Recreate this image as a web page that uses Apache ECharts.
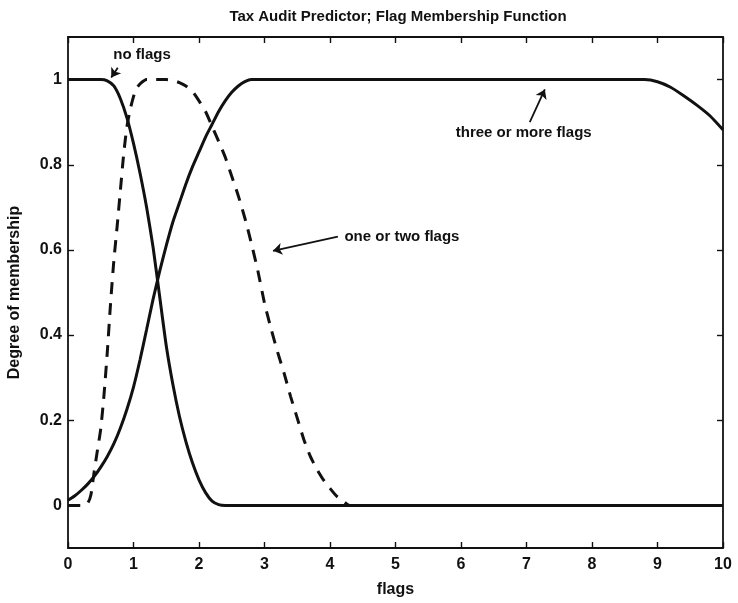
<!DOCTYPE html>
<html>
<head>
<meta charset="utf-8">
<script src="https://cdn.jsdelivr.net/npm/echarts@6/dist/echarts.min.js"></script>
<style>
  html, body { margin: 0; padding: 0; background: #fff; }
  #chart { width: 738px; height: 603px; }
</style>
</head>
<body>
<div id="chart"></div>
<script>
// Membership curves, sampled along the "flags" axis
const noFlagsX = [0, 0.1, 0.2, 0.3, 0.4, 0.5, 0.6, 0.7, 0.8, 0.9, 1.0, 1.1, 1.2, 1.3, 1.4, 1.5, 1.6, 1.7, 1.8, 1.9, 2.0, 2.1, 2.2, 2.3, 2.4, 10];
const noFlagsY = [1, 1, 1, 1, 1, 1, 0.997, 0.985, 0.955, 0.91, 0.85, 0.78, 0.70, 0.605, 0.49, 0.375, 0.285, 0.21, 0.15, 0.10, 0.06, 0.03, 0.01, 0.002, 0, 0];

const oneTwoX = [0, 0.2, 0.3, 0.35, 0.4, 0.45, 0.5, 0.55, 0.6, 0.65, 0.7, 0.75, 0.8, 0.85, 0.9, 0.95, 1.0, 1.05, 1.1, 1.2, 1.3, 1.4, 1.5, 1.6, 1.7, 1.8, 1.9, 2.0, 2.1, 2.2, 2.3, 2.4, 2.5, 2.6, 2.7, 2.8, 2.9, 3.0, 3.1, 3.2, 3.3, 3.4, 3.5, 3.6, 3.7, 3.8, 3.9, 4.0, 4.1, 4.2, 4.3, 10];
const oneTwoY = [0, 0, 0.005, 0.025, 0.08, 0.13, 0.18, 0.26, 0.36, 0.475, 0.575, 0.655, 0.74, 0.825, 0.89, 0.93, 0.96, 0.98, 0.99, 1, 1, 1, 1, 0.998, 0.993, 0.985, 0.972, 0.95, 0.925, 0.89, 0.855, 0.818, 0.773, 0.727, 0.675, 0.615, 0.55, 0.475, 0.415, 0.36, 0.31, 0.255, 0.205, 0.155, 0.115, 0.085, 0.06, 0.04, 0.022, 0.01, 0, 0];

const threePlusX = [0, 0.1, 0.2, 0.3, 0.4, 0.5, 0.6, 0.7, 0.8, 0.9, 1.0, 1.1, 1.2, 1.3, 1.4, 1.5, 1.6, 1.7, 1.8, 1.9, 2.0, 2.1, 2.2, 2.3, 2.4, 2.5, 2.6, 2.7, 2.8, 8.8, 9.0, 9.2, 9.4, 9.6, 9.8, 10];
const threePlusY = [0.012, 0.022, 0.035, 0.05, 0.068, 0.09, 0.115, 0.145, 0.182, 0.226, 0.278, 0.342, 0.413, 0.485, 0.55, 0.61, 0.665, 0.71, 0.755, 0.795, 0.83, 0.865, 0.895, 0.925, 0.95, 0.97, 0.985, 0.995, 1, 1, 0.995, 0.982, 0.962, 0.94, 0.915, 0.882];

// Axis ticks
const yTicks = [0, 0.2, 0.4, 0.6, 0.8, 1];

// Callout labels and their arrows (tail -> head), in data units
const calloutText = ['no flags', 'one or two flags', 'three or more flags'];
const calloutAt = [[1.13, 1.058], [4.22, 0.631], [5.92, 0.874]];
const calloutAlign = ['center', 'left', 'left'];
const arrowTail = [[0.76, 1.028], [4.12, 0.631], [7.05, 0.90]];
const arrowHead = [[0.66, 1.005], [3.13, 0.598], [7.28, 0.977]];

const pairs = (xs, ys) => xs.map((x, i) => [x, ys[i]]);

const FONT = '"Liberation Sans", Arial, sans-serif';
const INK = '#111';

const chart = echarts.init(document.getElementById('chart'), null, { renderer: 'canvas' });

const frameLine = { show: true, onZero: false, lineStyle: { color: INK, width: 1.8 } };
const tickStyle = { color: INK, width: 1.4 };
const labelFont = { fontFamily: FONT, fontSize: 16, fontWeight: 'bold', color: INK };
const nameFont = { fontFamily: FONT, fontSize: 16, fontWeight: 'bold', color: INK };

chart.setOption({
  animation: false,
  backgroundColor: '#fff',
  title: {
    text: 'Tax Audit Predictor; Flag Membership Function',
    left: 393, top: 4, textAlign: 'center',
    textStyle: { fontFamily: FONT, fontSize: 15, fontWeight: 'bold', color: INK }
  },
  grid: { left: 68, right: 15, top: 37, bottom: 55, containLabel: false, outerBoundsMode: 'none' },
  xAxis: [
    {
      type: 'value', min: 0, max: 10, interval: 1,
      name: 'flags', nameLocation: 'middle', nameGap: 34,
      nameTextStyle: nameFont,
      axisLine: frameLine,
      axisTick: { show: true, inside: true, length: 6, lineStyle: tickStyle },
      axisLabel: Object.assign({ margin: 9 }, labelFont),
      splitLine: { show: false }
    },
    {
      type: 'value', min: 0, max: 10, interval: 1, position: 'top',
      axisLine: frameLine,
      axisTick: { show: true, inside: true, length: 6, lineStyle: tickStyle },
      axisLabel: { show: false },
      splitLine: { show: false }
    }
  ],
  yAxis: [
    {
      type: 'value', min: -0.1, max: 1.1,
      name: 'Degree of membership', nameLocation: 'middle', nameGap: 45, nameRotate: 90,
      nameTextStyle: nameFont,
      axisLine: frameLine,
      axisTick: { show: true, inside: true, length: 6, customValues: yTicks, lineStyle: tickStyle },
      axisLabel: Object.assign({ margin: 6, customValues: yTicks }, labelFont),
      splitLine: { show: false }
    },
    {
      type: 'value', min: -0.1, max: 1.1, position: 'right',
      axisLine: frameLine,
      axisTick: { show: true, inside: true, length: 6, customValues: yTicks, lineStyle: tickStyle },
      axisLabel: { show: false },
      splitLine: { show: false }
    }
  ],
  series: [
    {
      name: 'no flags', type: 'line', data: pairs(noFlagsX, noFlagsY),
      showSymbol: false, smooth: 0.2,
      lineStyle: { color: INK, width: 3 }, z: 3
    },
    {
      name: 'one or two flags', type: 'line', data: pairs(oneTwoX, oneTwoY),
      showSymbol: false, smooth: 0.2,
      lineStyle: { color: INK, width: 3, type: [12, 9] }, z: 2
    },
    {
      name: 'three or more flags', type: 'line', data: pairs(threePlusX, threePlusY),
      showSymbol: false, smooth: 0.2,
      lineStyle: { color: INK, width: 3 }, z: 3
    },
    {
      type: 'lines', coordinateSystem: 'cartesian2d', silent: true,
      symbol: ['none', 'arrow'], symbolSize: 9,
      lineStyle: { color: INK, width: 1.8, opacity: 1 },
      data: arrowTail.map((t, i) => ({ coords: [t, arrowHead[i]] })), z: 4
    }
  ]
});

// Callout texts, placed through the chart's own coordinate conversion
chart.setOption({
  graphic: calloutAt.map((p, i) => {
    const px = chart.convertToPixel({ xAxisIndex: 0, yAxisIndex: 0 }, p);
    return {
      type: 'text', x: px[0], y: px[1], z: 10, silent: true,
      style: {
        text: calloutText[i], fill: INK,
        font: 'bold 15px ' + FONT,
        align: calloutAlign[i], verticalAlign: 'middle'
      }
    };
  })
});
</script>
</body>
</html>
